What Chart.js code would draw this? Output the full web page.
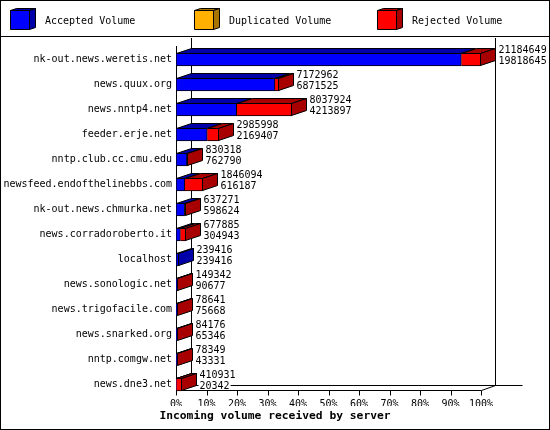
<!DOCTYPE html>
<html>
<head>
<meta charset="utf-8">
<script src="https://cdn.jsdelivr.net/npm/chart.js@4.4.1/dist/chart.umd.min.js"></script>
<style>
html,body{margin:0;padding:0;background:#fff;}
#c{display:block;}
</style>
</head>
<body>
<canvas id="c" width="550" height="430"></canvas>
<script>
// ---- data ----
const servers = [
  'nk-out.news.weretis.net', 'news.quux.org', 'news.nntp4.net', 'feeder.erje.net',
  'nntp.club.cc.cmu.edu', 'newsfeed.endofthelinebbs.com', 'nk-out.news.chmurka.net',
  'news.corradoroberto.it', 'localhost', 'news.sonologic.net', 'news.trigofacile.com',
  'news.snarked.org', 'nntp.comgw.net', 'news.dne3.net'
];
const seriesNames = ['Accepted Volume', 'Duplicated Volume', 'Rejected Volume'];
const totalVolume = [21184649, 7172962, 8037924, 2985998, 830318, 1846094, 637271, 677885, 239416, 149342, 78641, 84176, 78349, 410931];
const acceptedVolume = [19818645, 6871525, 4213897, 2169407, 762790, 616187, 598624, 304943, 239416, 90677, 75668, 65346, 43331, 20342];
const duplicatedVolume = [0, 0, 0, 0, 0, 0, 0, 0, 0, 0, 0, 0, 0, 0];
const rejectedVolume = [1366004, 301437, 3824027, 816591, 67528, 1229907, 38647, 372942, 0, 58665, 2973, 18830, 35018, 390589];
const tickPercent = [0, 10, 20, 30, 40, 50, 60, 70, 80, 90, 100];
const tickLabels = ['0%', '10%', '20%', '30%', '40%', '50%', '60%', '70%', '80%', '90%', '100%'];
const axisTitle = 'Incoming volume received by server';

// ---- styles ----
const FONT = 'DejaVu Sans Mono';
const frontColors = ['#0000ff', '#ffb000', '#ff0000'];
const darkColors = ['#0000a8', '#a87400', '#a80000'];
const DX = 15, DY = 5;

Chart.defaults.font.family = FONT;
Chart.defaults.font.size = 10;
Chart.defaults.color = '#000';

const maxVolume = Math.max(...totalVolume);

function poly(ctx, pts, fill) {
  ctx.beginPath();
  ctx.moveTo(pts[0][0], pts[0][1]);
  for (let k = 1; k < pts.length; k++) ctx.lineTo(pts[k][0], pts[k][1]);
  ctx.closePath();
  ctx.fillStyle = fill;
  ctx.fill();
  ctx.strokeStyle = '#000';
  ctx.lineWidth = 1;
  ctx.stroke();
}

const pagePlugin = {
  id: 'page',
  beforeDraw(chart) {
    const ctx = chart.ctx;
    ctx.save();
    ctx.fillStyle = '#fff';
    ctx.fillRect(0, 0, chart.width, chart.height);
    ctx.restore();
  },
  afterDraw(chart) {
    const ctx = chart.ctx;
    ctx.save();
    ctx.strokeStyle = '#000';
    ctx.lineWidth = 1;
    ctx.strokeRect(0.5, 0.5, chart.width - 1, chart.height - 1);
    ctx.beginPath();
    ctx.moveTo(0, 36.5);
    ctx.lineTo(chart.width, 36.5);
    ctx.stroke();
    // legend with cubes
    ctx.font = '10px ' + FONT;
    ctx.textBaseline = 'middle';
    ctx.textAlign = 'left';
    chart.data.datasets.forEach((ds, k) => {
      const x = Math.round(10 + k * 183.5) + 0.5;
      const y = 10.5;
      const s = 19, dx = 6, dy = 2;
      poly(ctx, [[x, y], [x + s, y], [x + s, y + s], [x, y + s]], frontColors[k]);
      poly(ctx, [[x, y], [x + dx, y - dy], [x + s + dx, y - dy], [x + s, y]], darkColors[k]);
      poly(ctx, [[x + s, y], [x + s + dx, y - dy], [x + s + dx, y + s - dy], [x + s, y + s]], darkColors[k]);
      ctx.fillStyle = '#000';
      ctx.fillText(ds.label, x + 34.5, 21);
    });
    ctx.restore();
  }
};

const frame3dPlugin = {
  id: 'frame3d',
  beforeDatasetsDraw(chart) {
    const ctx = chart.ctx, a = chart.chartArea, xs = chart.scales.x;
    const xL = Math.round(xs.getPixelForValue(0)) + 0.5;
    const xR = Math.round(xs.getPixelForValue(maxVolume)) + 0.5;
    const yF = Math.round(a.bottom) - 6.5;
    const yB = yF - DY;
    ctx.save();
    ctx.strokeStyle = '#000';
    ctx.lineWidth = 1;
    ctx.beginPath();
    ctx.moveTo(xL + DX, 38); ctx.lineTo(xL + DX, yB);
    ctx.moveTo(xR + 14, 38); ctx.lineTo(xR + 14, yB);
    ctx.moveTo(xL + DX, yB); ctx.lineTo(xR + 41, yB);
    ctx.moveTo(xL, a.top - 1); ctx.lineTo(xL, yF);
    ctx.moveTo(xL, yF); ctx.lineTo(xR, yF);
    ctx.moveTo(xL, yF); ctx.lineTo(xL + DX, yB);
    ctx.moveTo(xR, yF); ctx.lineTo(xR + 14, yB);
    xs.ticks.forEach(t => {
      const px = Math.round(xs.getPixelForValue(t.value)) + 0.5;
      ctx.moveTo(px, yF); ctx.lineTo(px, yF + 5);
    });
    ctx.stroke();
    ctx.restore();
  },
  afterDatasetsDraw(chart) {
    const ctx = chart.ctx;
    const metas = chart.data.datasets.map((d, k) => chart.getDatasetMeta(k));
    ctx.save();
    servers.forEach((name, i) => {
      const segs = [];
      metas.forEach((m, k) => {
        const el = m.data[i];
        const v = chart.data.datasets[k].data[i];
        if (!el || !v) return;
        const p = el.getProps(['x', 'y', 'base', 'height'], true);
        segs.push({
          L: Math.round(p.base) + 0.5,
          R: Math.max(Math.round(p.base) + 0.5, Math.round(p.x) - 0.5),
          T: Math.round(p.y - p.height / 2) + 0.5,
          B: Math.round(p.y + p.height / 2) - 0.5,
          fc: p.y,
          c: darkColors[k]
        });
      });
      if (!segs.length) return;
      segs.forEach((g, j) => {
        poly(ctx, [[g.L, g.T], [g.L + DX, g.T - DY], [g.R + DX, g.T - DY], [g.R, g.T]], g.c);
        if (j === segs.length - 1) {
          poly(ctx, [[g.R, g.T], [g.R + DX, g.T - DY], [g.R + DX, g.B - DY], [g.R, g.B]], g.c);
        }
      });
      const last = segs[segs.length - 1];
      const lx = last.R + DX + 3;
      const y1 = Math.floor(last.fc - 6);
      ctx.font = '10px ' + FONT;
      ctx.textBaseline = 'alphabetic';
      ctx.textAlign = 'left';
      [[String(totalVolume[i]), y1], [String(acceptedVolume[i]), y1 + 11]].forEach(([s, y]) => {
        const w = ctx.measureText(s).width;
        ctx.fillStyle = '#fff';
        ctx.fillRect(lx - 1, y - 8.5, w + 2, 9);
        ctx.fillStyle = '#000';
        ctx.fillText(s, lx, y);
      });
    });
    ctx.restore();
  }
};

const chart = new Chart(document.getElementById('c'), {
  type: 'bar',
  data: {
    labels: servers,
    datasets: [
      { label: seriesNames[0], data: acceptedVolume, backgroundColor: frontColors[0], borderSkipped: false },
      { label: seriesNames[1], data: duplicatedVolume, backgroundColor: frontColors[1], borderSkipped: 'start' },
      { label: seriesNames[2], data: rejectedVolume, backgroundColor: frontColors[2], borderSkipped: 'start' }
    ]
  },
  options: {
    indexAxis: 'y',
    responsive: false,
    devicePixelRatio: 1,
    animation: false,
    events: [],
    layout: { padding: { top: 47, left: 0, right: 0, bottom: 0 } },
    datasets: { bar: { barThickness: 13, borderColor: '#000', borderWidth: 1 } },
    scales: {
      x: {
        stacked: true, min: 0, max: maxVolume,
        grid: { display: false, drawTicks: false },
        border: { display: false },
        afterBuildTicks: s => { s.ticks = tickPercent.map(p => ({ value: maxVolume * p / 100 })); },
        ticks: { padding: 1, autoSkip: false, maxRotation: 0, font: { size: 10 }, callback: (v, i) => tickLabels[i] },
        afterFit: s => { s.height = 9; }
      },
      y: {
        stacked: true,
        grid: { display: false, drawTicks: false },
        border: { display: false },
        ticks: { padding: 4, autoSkip: false, font: { size: 10 } },
        afterFit: s => { s.width = 176; }
      },
      yR: {
        type: 'category', position: 'right',
        grid: { display: false, drawTicks: false },
        border: { display: false },
        ticks: { display: false },
        afterFit: s => { s.width = 69; }
      }
    },
    plugins: {
      legend: { display: false },
      tooltip: { enabled: false },
      title: {
        display: true, position: 'bottom', text: axisTitle, color: '#000',
        font: { size: 11.3, weight: 'bold', lineHeight: '13px' },
        padding: { top: 4, bottom: 7 }
      }
    }
  },
  plugins: [pagePlugin, frame3dPlugin]
});
</script>
</body>
</html>
